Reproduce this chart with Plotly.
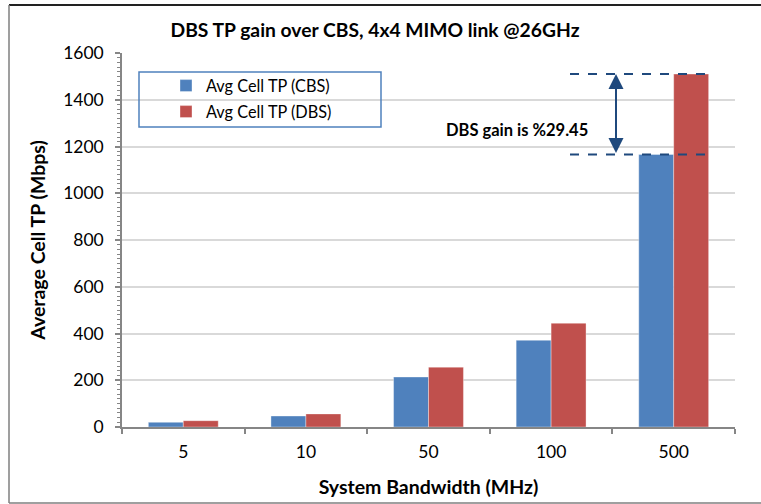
import plotly.graph_objects as go

# Throughput per system bandwidth, CBS vs DBS
bandwidths = ["5", "10", "50", "100", "500"]
cbs_tp = [20, 47, 214, 371, 1166]
dbs_tp = [27, 56, 256, 444, 1510]
gain_text = "DBS gain is %29.45"

y_ticks = [0, 200, 400, 600, 800, 1000, 1200, 1400, 1600]

FONT = "Lato"
BLUE = "#4f81bd"
RED = "#c0504d"
NAVY = "#1f497d"
AXIS = "#868686"
GRID = "#d9d9d9"

# plot-area geometry in pixels (used to place paper-referenced decorations)
W, H = 761, 504
L, R, T, B = 122, 26, 53, 77
PW, PH = W - L - R, H - T - B


def px_x(px):
    return (px - L) / PW


def px_y(py):
    return (H - B - py) / PH


fig = go.Figure()
fig.add_trace(go.Bar(
    x=bandwidths, y=cbs_tp, name="Avg Cell TP (CBS)",
    marker=dict(color=BLUE, line=dict(color="rgba(255,255,255,0.6)", width=0.6)),
    legend="legend", showlegend=True,
))
fig.add_trace(go.Bar(
    x=bandwidths, y=dbs_tp, name="Avg Cell TP (DBS)",
    marker=dict(color=RED, line=dict(color="rgba(255,255,255,0.6)", width=0.6)),
    legend="legend2", showlegend=True,
))

shapes = []
# dashed reference lines at the 500 MHz bar tops
for val in (dbs_tp[-1], cbs_tp[-1]):
    shapes.append(dict(
        type="line", xref="x domain", yref="y",
        x0=px_x(570), x1=px_x(712), y0=val, y1=val,
        line=dict(color=NAVY, width=2, dash="dash"),
    ))
# legend frame
shapes.append(dict(
    type="rect", xref="paper", yref="paper",
    x0=px_x(139), x1=px_x(381), y0=px_y(127), y1=px_y(72),
    line=dict(color=BLUE, width=1.5), fillcolor="rgba(0,0,0,0)",
))
# outer chart frame
shapes.append(dict(type="line", xref="paper", yref="paper",
                   x0=px_x(9), x1=px_x(761), y0=px_y(5), y1=px_y(5),
                   line=dict(color="#222222", width=2)))
shapes.append(dict(type="line", xref="paper", yref="paper",
                   x0=px_x(9), x1=px_x(9), y0=px_y(5), y1=px_y(503),
                   line=dict(color="#7f7f7f", width=1.5)))
shapes.append(dict(type="line", xref="paper", yref="paper",
                   x0=px_x(9), x1=px_x(761), y0=px_y(503), y1=px_y(503),
                   line=dict(color="#7f7f7f", width=1.5)))

annotations = [
    # double-headed arrow spanning the gain
    dict(
        xref="x domain", yref="y", axref="x domain", ayref="y",
        x=px_x(616), y=dbs_tp[-1], ax=px_x(616), ay=cbs_tp[-1],
        text="", showarrow=True, arrowside="end+start",
        arrowhead=2, arrowsize=1.5, arrowwidth=2, arrowcolor=NAVY,
        standoff=0, startstandoff=0,
    ),
    dict(
        xref="paper", yref="paper", x=px_x(517), y=px_y(118),
        text=f"<b>{gain_text}</b>", showarrow=False,
        font=dict(family=FONT, size=16.5, color="#000000"),
    ),
]

legend_common = dict(
    xanchor="left", yanchor="middle", bgcolor="rgba(0,0,0,0)", borderwidth=0,
    itemwidth=30, font=dict(family=FONT, size=16.3),
)

fig.update_layout(
    width=W, height=H,
    margin=dict(l=L, r=R, t=T, b=B),
    paper_bgcolor="white", plot_bgcolor="white",
    font=dict(family=FONT, size=17, color="#000000"),
    showlegend=True,
    title=dict(
        text="<b>DBS TP gain over CBS, 4x4 MIMO link @26GHz</b>",
        x=px_x(375), xref="paper", xanchor="center",
        y=1 - 30 / H, yanchor="middle",
        font=dict(family=FONT, size=19.3, color="#000000"),
    ),
    barmode="group", bargap=0.43, bargroupgap=0,
    legend=dict(x=px_x(166), y=px_y(86), **legend_common),
    legend2=dict(x=px_x(166), y=px_y(112), **legend_common),
    shapes=shapes,
    annotations=annotations,
    xaxis=dict(
        type="category", automargin=False,
        title=dict(text="<b>System Bandwidth (MHz)</b>", standoff=20,
                   font=dict(family=FONT, size=19.5)),
        showline=True, linecolor=AXIS, linewidth=1.5,
        ticks="outside", tickson="boundaries", ticklen=5, tickcolor=AXIS, tickwidth=1.5,
        tickfont=dict(family=FONT, size=17.5),
        ticklabelstandoff=8,
        showgrid=False,
    ),
    yaxis=dict(
        range=[0, 1600], tickvals=y_ticks, automargin=False,
        title=dict(text="<b>Average Cell TP (Mbps)</b>", standoff=12,
                   font=dict(family=FONT, size=19.5)),
        showline=True, linecolor=AXIS, linewidth=1.5,
        ticks="outside", ticklen=5, tickcolor=AXIS, tickwidth=1.5,
        tickfont=dict(family=FONT, size=17.5),
        ticklabelstandoff=8,
        showgrid=True, gridcolor=GRID, gridwidth=1.5,
        zeroline=False,
        minor=dict(dtick=20, ticks="outside", ticklen=3, tickcolor=AXIS,
                   tickwidth=1, showgrid=False),
    ),
)

fig.write_html("out.html")
